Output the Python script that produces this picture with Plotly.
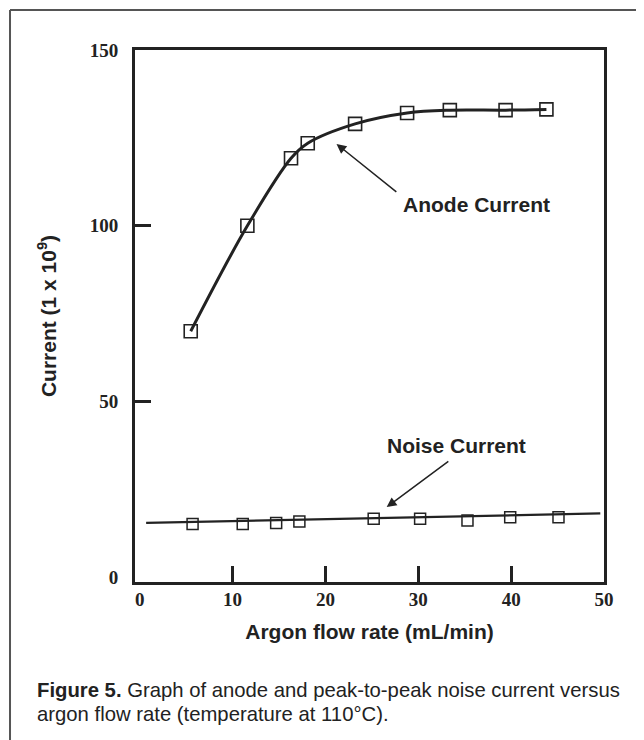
import plotly.graph_objects as go

# Data
anode_flow = [5.5, 11.6, 16.3, 18.1, 23.2, 28.8, 33.4, 39.4, 43.8]
anode_current = [70.0, 100.0, 119.2, 123.5, 129.0, 132.1, 132.9, 132.9, 133.1]

noise_flow = [5.7, 11.1, 14.7, 17.2, 25.2, 30.2, 35.3, 39.9, 45.1]
noise_current = [15.2, 15.2, 15.5, 15.9, 16.7, 16.7, 16.2, 17.1, 17.1]

noise_trend_flow = [0.7, 49.6]
noise_trend_current = [15.5, 18.2]

x_ticks = [0, 10, 20, 30, 40, 50]
y_ticks = [0, 50, 100, 150]
x_tick_marks = [10, 20, 30, 40]
y_tick_marks = [50, 100]

INK = "#222222"
SANS = "Liberation Sans, Arial, sans-serif"
SERIF = "Liberation Serif, Times New Roman, serif"

fig = go.Figure()

fig.add_trace(go.Scatter(
    x=anode_flow, y=anode_current, mode="lines",
    line=dict(color=INK, width=3, shape="spline", smoothing=1.0),
    hoverinfo="skip", showlegend=False))
fig.add_trace(go.Scatter(
    x=anode_flow, y=anode_current, mode="markers",
    marker=dict(symbol="square-open", size=13, color=INK, line=dict(width=1.6, color=INK)),
    name="Anode Current", showlegend=False))

fig.add_trace(go.Scatter(
    x=noise_trend_flow, y=noise_trend_current, mode="lines",
    line=dict(color=INK, width=2.2),
    hoverinfo="skip", showlegend=False))
fig.add_trace(go.Scatter(
    x=noise_flow, y=noise_current, mode="markers",
    marker=dict(symbol="square-open", size=11, color=INK, line=dict(width=1.5, color=INK)),
    name="Noise Current", showlegend=False))

axis_common = dict(
    showline=True, linecolor=INK, linewidth=3, mirror=True,
    ticks="", showgrid=False, zeroline=False,
    tickfont=dict(family=SERIF, size=19, color=INK, weight="bold"),
)

fig.update_xaxes(
    range=[-0.5, 50], tickmode="array", tickvals=x_ticks, ticktext=[str(v) for v in x_ticks],
    minor=dict(tickmode="array", tickvals=x_tick_marks, ticks="inside", ticklen=16,
               tickwidth=2.5, tickcolor=INK, showgrid=False),
    ticklabelstandoff=-2,
    title=dict(text="Argon flow rate (mL/min)", font=dict(family=SANS, size=21, color=INK, weight="bold"), standoff=16),
    **axis_common)
fig.update_yaxes(
    range=[-1.3, 150], tickmode="array", tickvals=y_ticks, ticktext=[str(v) for v in y_ticks],
    minor=dict(tickmode="array", tickvals=y_tick_marks, ticks="inside", ticklen=16,
               tickwidth=2.5, tickcolor=INK, showgrid=False),
    ticklabelstandoff=10,
    title=dict(text="Current (1 x 10<sup>9</sup>)", font=dict(family=SANS, size=21, color=INK, weight="bold"), standoff=28),
    **axis_common)

# Annotations with arrows
fig.add_annotation(x=36.3, y=106.2, text="<b>Anode Current</b>", showarrow=False,
                   font=dict(family=SANS, size=21, color=INK))
fig.add_annotation(x=21.2, y=123.3, ax=27.8, ay=109.3, axref="x", ayref="y",
                   text="", showarrow=True, arrowhead=2, arrowsize=1.3, arrowwidth=1.5, arrowcolor=INK)
fig.add_annotation(x=34.1, y=37.6, text="<b>Noise Current</b>", showarrow=False,
                   font=dict(family=SANS, size=21, color=INK))
fig.add_annotation(x=26.6, y=20.0, ax=33.4, ay=33.3, axref="x", ayref="y",
                   text="", showarrow=True, arrowhead=2, arrowsize=1.3, arrowwidth=1.5, arrowcolor=INK)

# Caption
CAP = "Liberation Sans, Arial, sans-serif"
fig.add_annotation(xref="paper", yref="paper", x=-0.213, y=-0.203, xanchor="left", yanchor="middle",
                   text="<b>Figure 5.</b> Graph of anode and peak-to-peak noise current versus",
                   showarrow=False, font=dict(family=CAP, size=20.3, color=INK), align="left")
fig.add_annotation(xref="paper", yref="paper", x=-0.213, y=-0.249, xanchor="left", yanchor="middle",
                   text="argon flow rate (temperature at 110°C).",
                   showarrow=False, font=dict(family=CAP, size=20.3, color=INK), align="left")

# Outer frame (top and left edges)
fig.add_shape(type="line", xref="paper", yref="paper", x0=-0.2665, y0=1.0752, x1=1.12, y1=1.0752,
              line=dict(color="#555555", width=2))
fig.add_shape(type="line", xref="paper", yref="paper", x0=-0.2665, y0=1.0752, x1=-0.2665, y1=-0.33,
              line=dict(color="#555555", width=2))

fig.update_layout(
    width=644, height=740,
    margin=dict(l=127, r=48, t=42, b=166),
    paper_bgcolor="white", plot_bgcolor="white",
)

fig.write_html("out.html")
